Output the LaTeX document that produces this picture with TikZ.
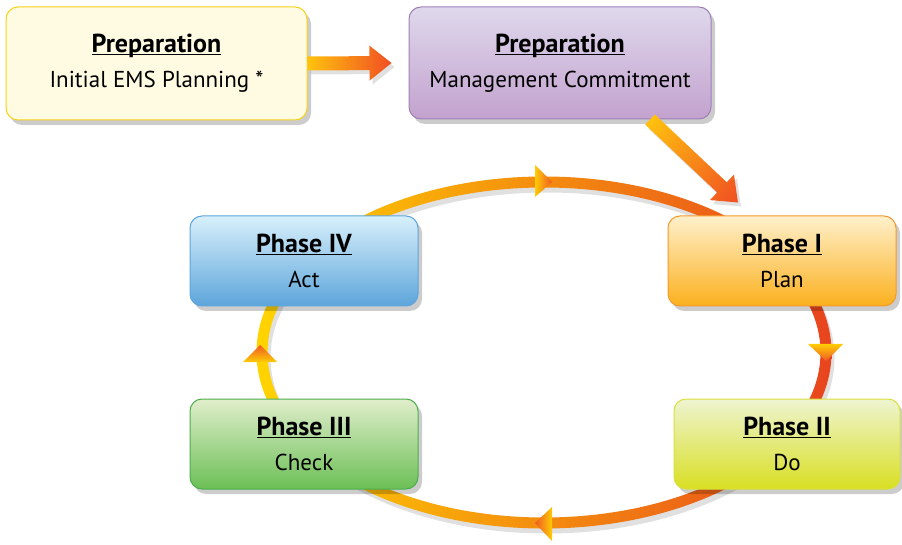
\documentclass[tikz,border=0pt]{standalone}
\usepackage{fontspec}
\setmainfont{PT Sans}
\usetikzlibrary{positioning,calc,shadows}
\definecolor{PrepYellowFill}{HTML}{FEFBE2}
\definecolor{PrepYellowLine}{HTML}{F6D21A}
\definecolor{PrepPurpleTop}{HTML}{DFD8EC}
\definecolor{PrepPurpleMid}{HTML}{D8CDE6}
\definecolor{PrepPurpleBot}{HTML}{C3A2CE}
\definecolor{PrepPurpleLine}{HTML}{9E80B8}
\definecolor{PlanTop}{HTML}{FFF0CB}
\definecolor{PlanMid}{HTML}{FFE8B5}
\definecolor{PlanBot}{HTML}{FBB01E}
\definecolor{PlanLine}{HTML}{F39A2E}
\definecolor{DoTop}{HTML}{EEF4D0}
\definecolor{DoMid}{HTML}{E9F0C4}
\definecolor{DoBot}{HTML}{D9DF22}
\definecolor{DoLine}{HTML}{D9E03C}
\definecolor{CheckTop}{HTML}{E0EECB}
\definecolor{CheckMid}{HTML}{D8E9C0}
\definecolor{CheckBot}{HTML}{6CBF56}
\definecolor{CheckLine}{HTML}{4DAE4F}
\definecolor{ActTop}{HTML}{D8F0FB}
\definecolor{ActMid}{HTML}{CDEAF8}
\definecolor{ActBot}{HTML}{5DA5DB}
\definecolor{ActLine}{HTML}{5DA5DB}
\definecolor{CycleYellow}{HTML}{FFD400}
\definecolor{CycleOrange}{HTML}{F8A31C}
\definecolor{CycleRed}{HTML}{E8441E}
\definecolor{HeadYellow}{HTML}{FFCC05}
\definecolor{HeadRed}{HTML}{EF5A24}
\definecolor{FlowYellow}{HTML}{FFC20E}
\definecolor{FlowRed}{HTML}{F04E23}

\newcommand{\boxtitle}[1]{\underline{\raisebox{0pt}[\height][0pt]{\fontsize{26}{35}\selectfont\bfseries #1}}}

% fat shaded arrow between two named points
\newcommand{\fatarrow}[2]{%
  \path let \p1=($(#2)-(#1)$) in \pgfextra{%
    \pgfmathsetmacro\arrang{atan2(\y1,\x1)}\xdef\arrang{\arrang}%
    \pgfmathsetmacro\arrlen{veclen(\x1,\y1)}\xdef\arrlen{\arrlen}};
  \begin{scope}[transform canvas={shift={($(#1)+(3,-4)$)}, rotate=\arrang}]
    \fill[black, opacity=0.12] (0,-7) -- (\arrlen-22,-7) -- (\arrlen-22,-17.5) -- (\arrlen,0) -- (\arrlen-22,17.5) -- (\arrlen-22,7) -- (0,7) -- cycle;
  \end{scope}
  \begin{scope}[transform canvas={shift={(#1)}, rotate=\arrang}]
    \shade[left color=FlowYellow, right color=FlowRed] (0,-7) -- (\arrlen-22,-7) -- (\arrlen-22,-17.5) -- (\arrlen,0) -- (\arrlen-22,17.5) -- (\arrlen-22,7) -- (0,7) -- cycle;
  \end{scope}}

\begin{document}
\begin{tikzpicture}[x=1pt, y=1pt,
  stage/.style={rectangle, rounded corners=12pt, line width=1pt, align=center,
    minimum width=228pt, minimum height=90pt, inner sep=0pt,
    font=\fontsize{23}{35}\selectfont,
    drop shadow={shadow xshift=4pt, shadow yshift=-5pt, opacity=0.2, fill=black}},
  prep/.style={stage, minimum width=301pt, minimum height=113pt}
]
\useasboundingbox (0,0) rectangle (902,544);

% Cycle ring
\coordinate (cyc) at (544,191.5);
\fill[black, opacity=0.12, even odd rule] ($(cyc)+(3,-5)$) ellipse [x radius=287.5, y radius=176] ($(cyc)+(3,-5)$) ellipse [x radius=276.5, y radius=165];
\shade[even odd rule, left color=CycleYellow, middle color=CycleOrange, right color=CycleRed]
  (cyc) ellipse [x radius=287.5, y radius=176] (cyc) ellipse [x radius=276.5, y radius=165];

% Ring arrowheads
\shade[left color=HeadYellow, right color=HeadRed] ($(cyc)+(-9,187.5)$) -- ($(cyc)+(8,170.5)$) -- ($(cyc)+(-9,155.5)$) -- cycle;
\shade[top color=HeadYellow, bottom color=HeadRed] ($(cyc)+(264,8.5)$) -- ($(cyc)+(299,8.5)$) -- ($(cyc)+(282,-8.5)$) -- cycle;
\shade[right color=HeadYellow, left color=HeadRed] ($(cyc)+(8,-154.5)$) -- ($(cyc)+(-9,-170.5)$) -- ($(cyc)+(8,-188.5)$) -- cycle;
\shade[bottom color=HeadYellow, top color=HeadRed] ($(cyc)+(-301,-9.5)$) -- ($(cyc)+(-284,7.5)$) -- ($(cyc)+(-267,-9.5)$) -- cycle;

% Preparation boxes
\node[prep, draw=PrepYellowLine, fill=PrepYellowFill] (prepA) at (156.5,480.5)
  {\boxtitle{Preparation}\\Initial EMS Planning *};
\node[prep, minimum width=302pt, minimum height=112pt, draw=PrepPurpleLine,
  top color=PrepPurpleTop, middle color=PrepPurpleMid, bottom color=PrepPurpleBot] (prepB) at (560,481)
  {\boxtitle{Preparation}\\Management Commitment};

% Phase boxes
\node[stage, draw=PlanLine, top color=PlanTop, middle color=PlanMid, bottom color=PlanBot] (phaseI) at (782,283)
  {\boxtitle{Phase I}\\Plan};
\node[stage, minimum width=226pt, draw=DoLine, top color=DoTop, middle color=DoMid, bottom color=DoBot] (phaseII) at (787,100)
  {\boxtitle{Phase II}\\Do};
\node[stage, draw=CheckLine, top color=CheckTop, middle color=CheckMid, bottom color=CheckBot] (phaseIII) at (304,100)
  {\boxtitle{Phase III}\\Check};
\node[stage, draw=ActLine, top color=ActTop, middle color=ActMid, bottom color=ActBot] (phaseIV) at (304,283)
  {\boxtitle{Phase IV}\\Act};

% Flow arrows
\coordinate (tailA) at (prepA.east);
\coordinate (tipA) at ($(prepB.west)+(-17,0)$);
\fatarrow{tailA}{tipA}
\coordinate (tailB) at ($(prepB.south)+(90,0)$);
\coordinate (tipB) at ($(phaseI.north)+(-44,13)$);
\fatarrow{tailB}{tipB}

\end{tikzpicture}
\end{document}
